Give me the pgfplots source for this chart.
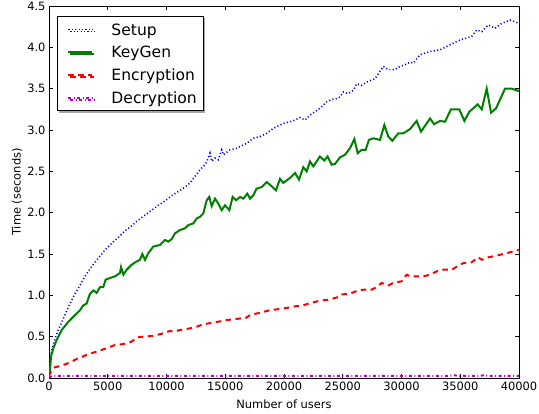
\documentclass[border=0pt]{standalone}
\usepackage{pgfplots}
\pgfplotsset{compat=1.18}
\usepackage{fontspec}
\setmainfont{DejaVu Sans}
\usetikzlibrary{shadows}
\definecolor{mblue}{rgb}{0,0,1}
\definecolor{mgreen}{rgb}{0,0.5,0}
\definecolor{mred}{rgb}{1,0,0}
\definecolor{mmag}{rgb}{0.75,0,0.75}
\newcommand{\lent}[1]{\makebox[82bp][l]{#1}}
\begin{document}
\begin{tikzpicture}
\useasboundingbox (-49bp,-36bp) rectangle (490bp,378bp);
\begin{axis}[
 scale only axis, width=470bp, height=372bp,
 xmin=0, xmax=40000, ymin=0, ymax=4.5,
 xtick={0,5000,10000,15000,20000,25000,30000,35000,40000},
 ytick={0,0.5,1,1.5,2,2.5,3,3.5,4,4.5},
 scaled x ticks=false, scaled y ticks=false,
 xticklabel style={/pgf/number format/1000 sep={}},
 yticklabel style={/pgf/number format/fixed, /pgf/number format/precision=1, /pgf/number format/fixed zerofill},
 /pgf/number format/assume math mode=true,
 tick label style={font=\fontsize{11.5}{13}\selectfont},
 label style={font=\fontsize{11.5}{13}\selectfont},
 xlabel={Number of users}, ylabel={Time (seconds)},
 xlabel style={at={(axis description cs:0.5,-0.07)}, anchor=center},
 ylabel style={at={(axis description cs:-0.068,0.5)}, anchor=center},
 axis line style={line width=1bp, black},
 tick style={line width=1bp, black},
 major tick length=4bp,
 legend cell align=left,
 legend style={at={(axis description cs:0.017,0.974)}, anchor=north west, draw=black, line width=1bp, fill=white,
   font=\fontsize{15.6}{18}\selectfont, inner xsep=10bp, inner ysep=4.5bp, row sep=5bp, column sep=0pt,
   nodes={inner xsep=0pt, inner ysep=0pt, text height=14.4bp, text depth=3.3bp},
   drop shadow={shadow xshift=2bp, shadow yshift=-2bp, fill=black!35, opacity=1}},
 legend image code/.code={\draw[#1] (0bp,0bp) -- (24bp,0bp); \path (42bp,0bp);},
]
\addplot[mblue, line width=1.6bp, dash pattern=on 1.1bp off 2.3bp] coordinates {
(0,0.05) (85,0.18) (230,0.34) (510,0.48) (790,0.58) (1220,0.72) (1790,0.90) (2210,1.02) (2640,1.12)
(3060,1.23) (3630,1.35) (4200,1.45) (4770,1.55) (5330,1.63) (5900,1.70) (6470,1.78) (7030,1.84)
(7600,1.91) (8170,1.97) (8740,2.03) (9300,2.09) (9870,2.14) (10300,2.19) (10720,2.23) (11150,2.27)
(11570,2.31) (12000,2.36) (12850,2.52) (13280,2.58) (13560,2.66) (13700,2.72) (13850,2.62) (14130,2.66)
(14410,2.64) (14700,2.76) (14840,2.70) (15400,2.76) (15970,2.78) (16830,2.84) (17390,2.90) (17960,2.92)
(18530,2.96) (19090,3.02) (19940,3.08) (20510,3.10) (20940,3.12) (21360,3.15) (21500,3.14) (21790,3.12)
(22210,3.18) (22640,3.22) (23210,3.28) (23630,3.34) (24060,3.37) (24490,3.38) (24770,3.40) (25050,3.46)
(25470,3.44) (25900,3.48) (26190,3.56) (26610,3.54) (27040,3.58) (27740,3.62) (28030,3.68) (28450,3.77)
(28880,3.73) (29450,3.73) (29870,3.77) (30300,3.79) (30720,3.82) (31010,3.81) (31570,3.91) (32000,3.93)
(32430,3.95) (33280,3.97) (34130,4.03) (34980,4.09) (35970,4.13) (36400,4.21) (36830,4.19) (37390,4.27)
(37960,4.23) (38530,4.29) (39230,4.33) (39660,4.31) (40000,4.29)};
\addlegendentry{\lent{Setup}}
\addplot[mgreen, line width=2bp] coordinates {
(0,0.05) (85,0.10) (170,0.26) (370,0.36) (650,0.46) (1080,0.58) (1650,0.68) (2210,0.76) (2640,0.82)
(2920,0.88) (3200,0.90) (3490,1.02) (3770,1.06) (4060,1.03) (4340,1.10) (4620,1.10) (4820,1.19)
(5190,1.21) (5620,1.23) (6040,1.27) (6130,1.34) (6330,1.25) (6610,1.31) (7030,1.37) (7460,1.41)
(7740,1.43) (7940,1.50) (8170,1.43) (8450,1.51) (8880,1.59) (9450,1.61) (9870,1.67) (10150,1.65)
(10440,1.68) (10720,1.75) (11150,1.79) (11570,1.81) (11860,1.85) (12280,1.87) (12570,1.93) (12850,1.95)
(13130,1.99) (13420,2.15) (13640,2.19) (13850,2.08) (14130,2.17) (14410,2.11) (14700,2.03) (14980,2.09)
(15350,2.03) (15630,2.19) (15910,2.15) (16260,2.19) (16540,2.17) (16880,2.23) (17110,2.17) (17390,2.21)
(17670,2.29) (18100,2.31) (18530,2.37) (18950,2.32) (19320,2.27) (19660,2.41) (19940,2.36) (20510,2.42)
(20940,2.48) (21280,2.40) (21640,2.55) (21930,2.50) (22210,2.62) (22500,2.56) (23060,2.68) (23430,2.63)
(23710,2.68) (24060,2.58) (24340,2.59) (24770,2.67) (25190,2.70) (25620,2.78) (25990,2.89) (26270,2.72)
(26610,2.76) (26950,2.76) (27230,2.88) (27600,2.90) (28170,2.88) (28540,3.06) (28880,2.92) (29220,2.87)
(29730,2.96) (30150,2.96) (30720,3.01) (31290,3.11) (31660,2.98) (32430,3.14) (32770,3.07) (33280,3.11)
(33700,3.10) (34210,3.25) (34920,3.25) (35350,3.11) (35770,3.22) (36480,3.31) (36830,3.25) (37250,3.50)
(37620,3.21) (38040,3.26) (38810,3.50) (39380,3.50) (40000,3.47)};
\addlegendentry{\lent{KeyGen}}
\addplot[mred, line width=2bp, dash pattern=on 5.5bp off 4.5bp] coordinates {
(0,0.02) (85,0.06) (510,0.13) (1080,0.15) (1650,0.18) (2360,0.23) (3210,0.28) (4060,0.32) (4910,0.36)
(5620,0.40) (6330,0.41) (7030,0.44) (7460,0.49) (8030,0.50) (8880,0.51) (9730,0.54) (10300,0.57)
(10580,0.56) (11150,0.58) (12000,0.60) (12570,0.62) (13130,0.65) (13990,0.67) (15120,0.70) (16260,0.72)
(16680,0.72) (17110,0.76) (17960,0.79) (18810,0.82) (19940,0.84) (21080,0.87) (21500,0.87) (22070,0.90)
(22920,0.93) (23340,0.94) (23910,0.95) (24620,0.98) (24910,1.01) (25620,1.02) (26330,1.06) (26890,1.07)
(27320,1.06) (27890,1.10) (28310,1.15) (28880,1.12) (29300,1.15) (30020,1.17) (30440,1.25) (30720,1.23)
(31150,1.23) (31860,1.23) (32430,1.25) (33000,1.29) (33560,1.31) (34270,1.31) (34980,1.37) (35260,1.39)
(35970,1.40) (36540,1.46) (36830,1.43) (37390,1.46) (38100,1.48) (38950,1.51) (40000,1.55)};
\addlegendentry{\lent{Encryption}}
\addplot[mmag, line width=2bp, dash pattern=on 3bp off 2.5bp on 1bp off 2.5bp] coordinates {
(0,0.01) (400,0.025) (2000,0.025) (4000,0.024) (6000,0.025) (8000,0.025) (10000,0.026) (12000,0.025)
(14000,0.025) (16000,0.025) (18000,0.025) (20000,0.026) (22000,0.025) (24000,0.025) (26000,0.025)
(28000,0.025) (30000,0.025) (32000,0.025) (34000,0.025) (34500,0.032) (35000,0.025) (36500,0.025)
(37000,0.032) (37500,0.025) (40000,0.025)};
\addlegendentry{\lent{Decryption}}
\end{axis}
\end{tikzpicture}
\end{document}
